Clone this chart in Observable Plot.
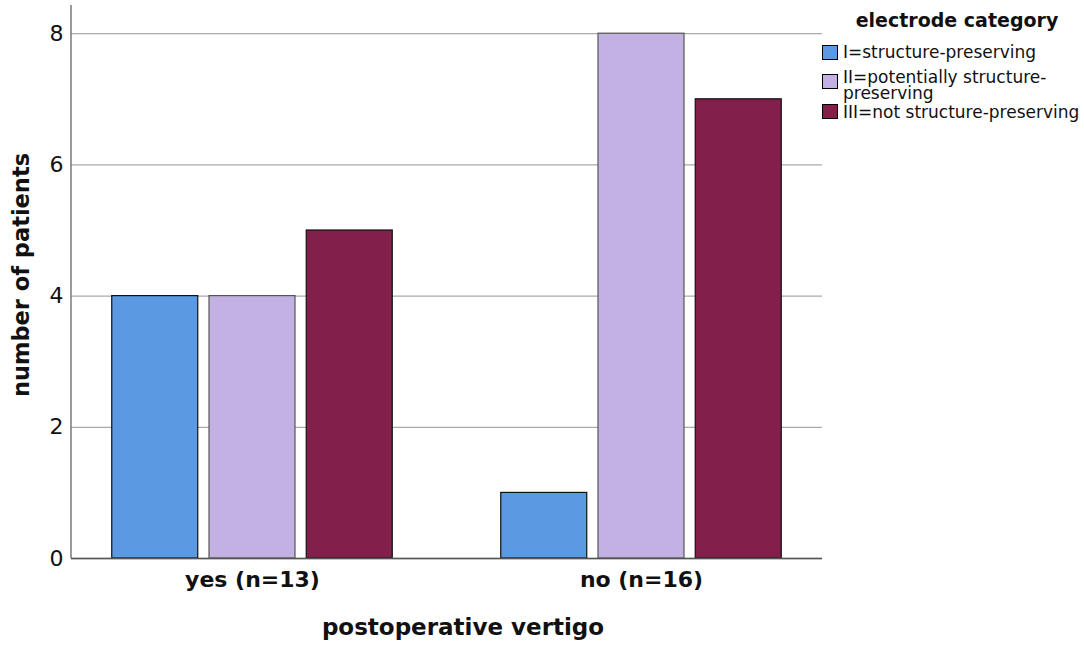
<!DOCTYPE html>
<html>
<head>
<meta charset="utf-8">
<script src="https://cdn.jsdelivr.net/npm/d3@7"></script>
<script src="https://cdn.jsdelivr.net/npm/@observablehq/plot@0.6"></script>
<style>
  html, body { margin: 0; padding: 0; background: #fff; }
  #wrap { position: relative; width: 1084px; height: 648px; font-family: "DejaVu Sans", Verdana, sans-serif; }
  #legend { position: absolute; left: 822px; top: 0; width: 262px; height: 140px; color: #111; }
  #legend .title { position: absolute; left: 19px; width: 232px; top: 8px; font-weight: bold; font-size: 19px; line-height: 24px; text-align: center; }
  #legend .item { position: absolute; left: 0; width: 262px; display: flex; align-items: flex-start; font-size: 17px; line-height: 16px; }
  #legend .sw { flex: none; width: 16px; height: 15px; border: 1px solid #000; box-sizing: border-box; margin-right: 5px; }
  #legend .txt { width: 241px; }
</style>
</head>
<body>
<div id="wrap"></div>
<script>
const groups = ["yes (n=13)", "no (n=16)"];
const categories = ["I=structure-preserving", "II=potentially structure-preserving", "III=not structure-preserving"];
const valuesYes = [4, 4, 5];
const valuesNo = [1, 8, 7];
const colors = ["#5b9ae3", "#c4b1e4", "#821f4b"];
const strokes = ["#111", "#555", "#111"];
const yTicks = [0, 2, 4, 6, 8];
const legendTitle = "electrode category";
const xLabel = "postoperative vertigo";
const yLabel = "number of patients";

const seriesByGroup = [valuesYes, valuesNo];
const data = [];
groups.forEach((g, gi) => categories.forEach((c, ci) => data.push({group: g, cat: c, ci, key: g + "|" + ci, value: seriesByGroup[gi][ci]})));
const xDomain = [];
groups.forEach((g, gi) => {
  if (gi > 0) xDomain.push("gap" + gi);
  categories.forEach((c, ci) => xDomain.push(g + "|" + ci));
});
const midKeys = groups.map(g => g + "|1");

const chart = Plot.plot({
  width: 1084,
  height: 648,
  marginTop: 5,
  marginBottom: 90,
  marginLeft: 71,
  marginRight: 262,
  style: {fontFamily: "DejaVu Sans, Verdana, sans-serif", color: "#111", background: "#fff"},
  x: {domain: xDomain, paddingInner: 0.1157, paddingOuter: 0.419, round: false, axis: null},
  y: {domain: [0, 8.43], axis: null},
  color: {domain: categories, range: colors},
  marks: [
    Plot.gridY(yTicks, {stroke: "#aaa", strokeOpacity: 1, strokeWidth: 1.3}),
    Plot.barY(data, {x: "key", y: "value", fill: "cat", stroke: d => strokes[d.ci], strokeWidth: 1.2}),
    Plot.ruleY([0], {stroke: "#555", strokeWidth: 1.3}),
    Plot.axisY({ticks: yTicks, tickSize: 0, tickPadding: 8, fontSize: 22, label: null}),
    Plot.axisX({ticks: midKeys, tickSize: 0, tickPadding: 13, fontSize: 22, fontWeight: "bold", tickFormat: k => k.split("|")[0], label: null}),
    Plot.text([xLabel], {frameAnchor: "bottom", text: d => d, dy: 76, dx: 16, fontSize: 23, fontWeight: "bold", fill: "#111"}),
    Plot.text([yLabel], {frameAnchor: "left", text: d => d, rotate: -90, textAnchor: "middle", dx: -50, dy: -7, fontSize: 22.5, fontWeight: "bold", fill: "#111"})
  ]
});

const wrap = document.getElementById("wrap");
wrap.appendChild(chart);
// left axis line
d3.select(chart).append("line").attr("x1", 71).attr("x2", 71).attr("y1", 5).attr("y2", 558).attr("stroke", "#666").attr("stroke-width", 1.3);

const legend = document.createElement("div");
legend.id = "legend";
const itemTops = [44, 69, 104];
const swTops = [1, 5, 0];
let html = `<div class="title">${legendTitle}</div>`;
categories.forEach((c, i) => {
  html += `<div class="item" style="top:${itemTops[i]}px"><span class="sw" style="background:${colors[i]};margin-top:${swTops[i]}px"></span><span class="txt">${c}</span></div>`;
});
legend.innerHTML = html;
wrap.appendChild(legend);
</script>
</body>
</html>
